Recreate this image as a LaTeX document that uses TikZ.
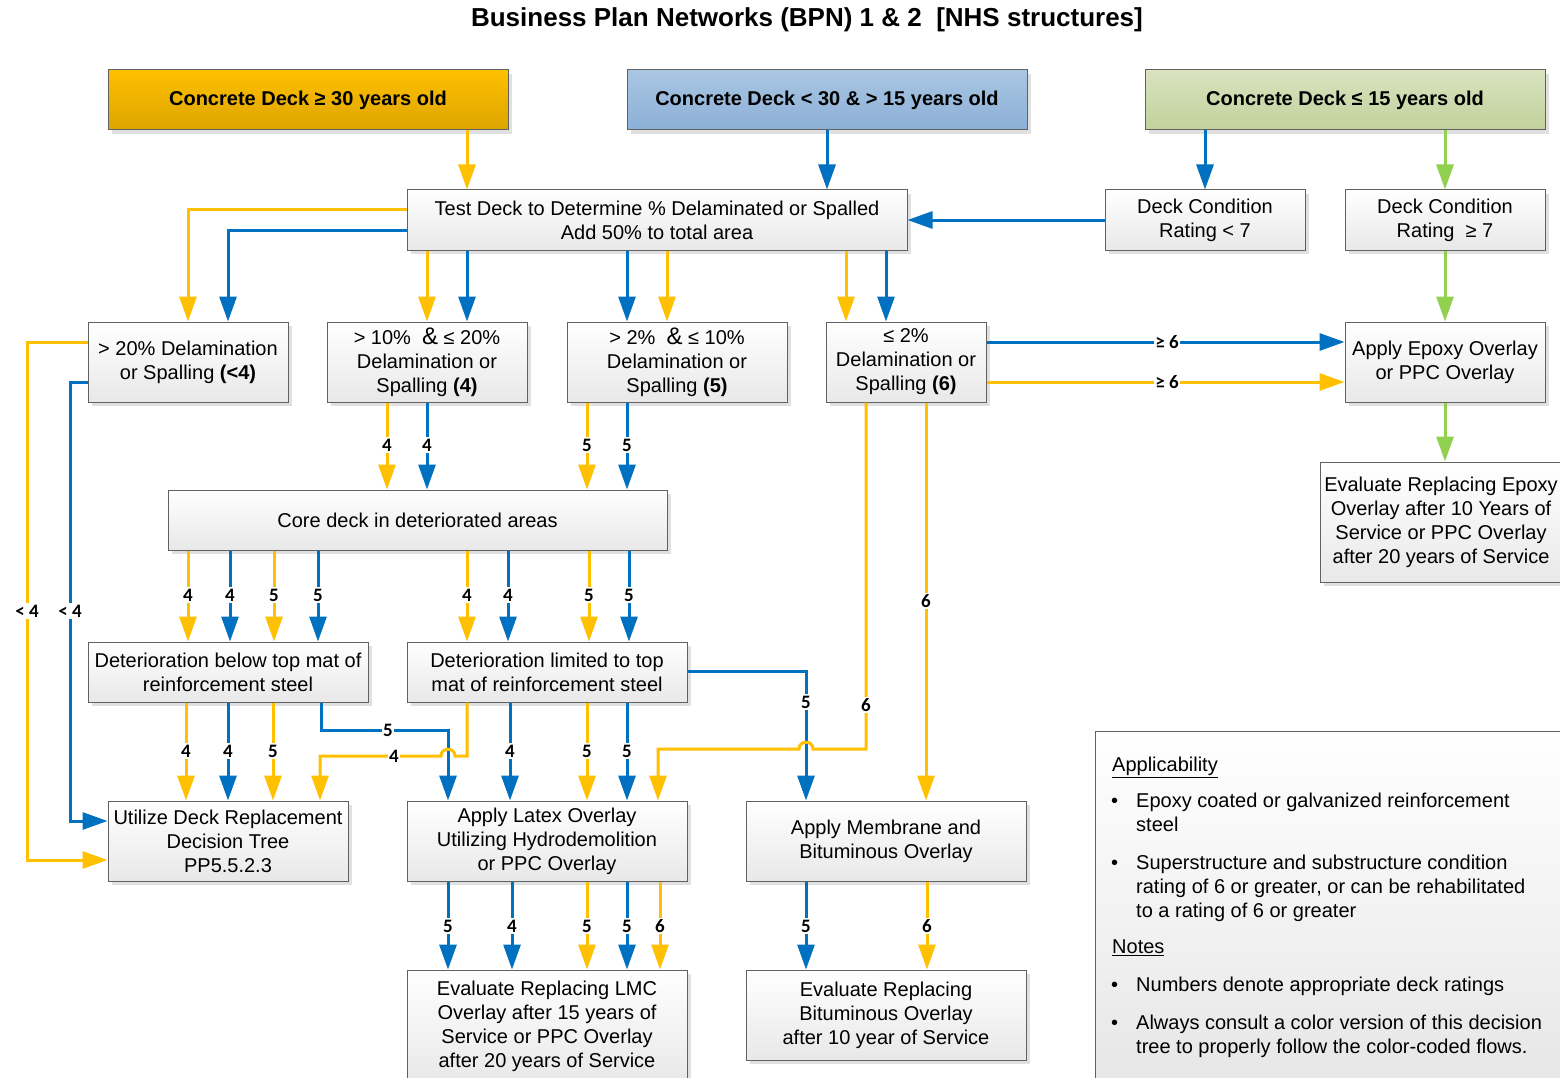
\documentclass[tikz,border=0pt]{standalone}
\usepackage{fontspec}
\setmainfont{Liberation Sans}
\newfontfamily\lblfont{Carlito}
\usetikzlibrary{arrows.meta,shadows}
\definecolor{cor}{HTML}{FFC000}
\definecolor{cbl}{HTML}{0070C0}
\definecolor{cgr}{HTML}{92D050}
\definecolor{h1t}{HTML}{FFC000}
\definecolor{h1b}{HTML}{DCA400}
\definecolor{h2t}{HTML}{A9C6E3}
\definecolor{h2b}{HTML}{8CB0D7}
\definecolor{h3t}{HTML}{D9E3BF}
\definecolor{h3b}{HTML}{C2D19C}
\begin{document}
\begin{tikzpicture}[x=1pt,y=-1pt,
  box/.style={draw=black!62, line width=1pt, top color=white, bottom color=black!9,
    inner sep=0pt, align=center, font=\fontsize{20}{24}\selectfont,
    drop shadow={shadow xshift=4pt,shadow yshift=-4pt,fill=black!12,opacity=1}},
  hbox/.style={box, font=\bfseries\fontsize{20}{24}\selectfont, minimum width=400pt, minimum height=60pt},
  conn/.style={line width=3pt, -{Triangle[length=25pt,width=17pt]}},
  oa/.style={conn, draw=cor, color=cor},
  ba/.style={conn, draw=cbl, color=cbl},
  ga/.style={conn, draw=cgr, color=cgr},
  lbl/.style={fill=white, text=black, inner sep=1.5pt, font=\lblfont\bfseries\fontsize{19}{19}\selectfont},
  nt/.style={inner sep=0pt, align=left, anchor=north west, font=\fontsize{20}{24}\selectfont},
  bul/.style={inner sep=0pt, anchor=base west, font=\fontsize{20}{24}\selectfont}
]
\fill[white] (0,0) rectangle (1560,1078);
\useasboundingbox (0,0) rectangle (1560,1078);

\node[inner sep=0pt, font=\bfseries\fontsize{26}{30}\selectfont] (title) at (807,20)
  {Business Plan Networks (BPN) 1 \& 2~~[NHS structures]};

% header boxes
\node[hbox, top color=h1t, bottom color=h1b] (h1) at (308,100) {Concrete Deck ≥ 30 years old};
\node[hbox, top color=h2t, bottom color=h2b] (h2) at (827,100) {Concrete Deck < 30 \& > 15 years old};
\node[hbox, top color=h3t, bottom color=h3b] (h3) at (1345,100) {Concrete Deck ≤ 15 years old};

% second row
\node[box, minimum width=500pt, minimum height=60pt] (test) at (657,220)
  {Test Deck to Determine \% Delaminated or Spalled\\Add 50\% to total area};
\node[box, minimum width=200pt, minimum height=60pt] (dcr1) at (1205,220) {Deck Condition\\Rating < 7};
\node[box, minimum width=200pt, minimum height=60pt] (dcr2) at (1445,220) {Deck Condition\\Rating ~≥ 7};

% third row
\node[box, minimum width=200pt, minimum height=80pt] (bA) at (188,362)
  {> 20\% Delamination\\or Spalling \textbf{(<4)}};
\node[box, minimum width=200pt, minimum height=80pt] (bB) at (427,362)
  {> 10\%~~{\fontsize{24}{24}\selectfont\&} ≤ 20\%\\Delamination or\\Spalling \textbf{(4)}};
\node[box, minimum width=220pt, minimum height=80pt] (bC) at (677,362)
  {> 2\%~~{\fontsize{24}{24}\selectfont\&} ≤ 10\%\\Delamination or\\Spalling \textbf{(5)}};
\node[box, minimum width=160pt, minimum height=80pt] (bD) at (906,362)
  {≤ 2\%\\Delamination or\\Spalling \textbf{(6)}};
\node[box, minimum width=200pt, minimum height=80pt] (epx) at (1445,362)
  {Apply Epoxy Overlay\\or PPC Overlay};
\node[box, minimum width=242pt, minimum height=120pt] (evx) at (1441,522)
  {Evaluate Replacing Epoxy\\Overlay after 10 Years of\\Service or PPC Overlay\\after 20 years of Service};

% core
\node[box, minimum width=499pt, minimum height=60pt] (core) at (417.5,520) {Core deck in deteriorated areas};

\node[box, minimum width=280pt, minimum height=60pt] (dbel) at (228,672)
  {Deterioration below top mat of\\reinforcement steel};
\node[box, minimum width=280pt, minimum height=60pt] (dlim) at (547,672)
  {Deterioration limited to top\\mat of reinforcement steel};

\node[box, minimum width=240pt, minimum height=80pt] (ut) at (228,841)
  {Utilize Deck Replacement\\Decision Tree\\PP5.5.2.3};
\node[box, minimum width=280pt, minimum height=80pt] (la) at (547,841)
  {Apply Latex Overlay\\Utilizing Hydrodemolition\\or PPC Overlay};
\node[box, minimum width=280pt, minimum height=80pt] (mem) at (886,841)
  {Apply Membrane and\\Bituminous Overlay};

\node[box, minimum width=280pt, minimum height=112pt] (lmc) at (547,1026)
  {Evaluate Replacing LMC\\Overlay after 15 years of\\Service or PPC Overlay\\after 20 years of Service};
\node[box, minimum width=280pt, minimum height=90pt] (bit) at (886,1015)
  {Evaluate Replacing\\Bituminous Overlay\\after 10 year of Service};

% notes box
\node[draw=black!62, line width=1pt, top color=white, bottom color=black!10, inner sep=0pt,
  anchor=north west, minimum width=480pt, minimum height=360pt] (nb) at (1095,731) {};
\node[nt] (n1) at (1112,757) {\underline{Applicability}};
\node[bul] (b1) at (1111,807) {•};
\node[nt] (n2) at (1136,793) {Epoxy coated or galvanized reinforcement\\steel};
\node[bul] (b2) at (1111,869) {•};
\node[nt] (n3) at (1136,855) {Superstructure and substructure condition\\rating of 6 or greater, or can be rehabilitated\\to a rating of 6 or greater};
\node[nt] (n4) at (1112,940) {\underline{Notes}};
\node[bul] (b3) at (1111,991) {•};
\node[nt] (n5) at (1136,977) {Numbers denote appropriate deck ratings};
\node[bul] (b4) at (1111,1029) {•};
\node[nt] (n6) at (1136,1015) {Always consult a color version of this decision\\tree to properly follow the color-coded flows.};

% ---------- connectors ----------
\draw[oa] (467,0 |- h1.south) -- (467,0 |- test.north);
\draw[ba] (827,0 |- h2.south) -- (827,0 |- test.north);
\draw[ba] (1205,0 |- h3.south) -- (dcr1.north);
\draw[ga] (1445,0 |- h3.south) -- (dcr2.north);
\draw[ba] (dcr1.west) -- (test.east);
\draw[ga] (dcr2.south) -- (epx.north);
\draw[ga] (1445,0 |- epx.south) -- (1445,0 |- evx.north);

% test -> row 3
\draw[oa] (test.west |- 0,210) -- (188,210) -- (188,0 |- bA.north);
\draw[ba] (test.west |- 0,230) -- (228,230) -- (228,0 |- bA.north);
\draw[oa] (427,0 |- test.south) -- (427,0 |- bB.north);
\draw[ba] (467,0 |- test.south) -- (467,0 |- bB.north);
\draw[ba] (627,0 |- test.south) -- (627,0 |- bC.north);
\draw[oa] (667,0 |- test.south) -- (667,0 |- bC.north);
\draw[oa] (846,0 |- test.south) -- (846,0 |- bD.north);
\draw[ba] (886,0 |- test.south) -- (886,0 |- bD.north);

% D -> epoxy
\draw[ba] (bD.east |- 0,342) -- (1167,342) node[lbl] {≥ 6} -- (epx.west |- 0,342);
\draw[oa] (bD.east |- 0,382) -- (1167,382) node[lbl] {≥ 6} -- (epx.west |- 0,382);

% A -> utilize
\draw[oa] (bA.west |- 0,342) -- (27,342) -- (27,611) node[lbl] {< 4} -- (27,860) -- (ut.west |- 0,860);
\draw[ba] (bA.west |- 0,382) -- (70,382) -- (70,611) node[lbl] {< 4} -- (70,821) -- (ut.west |- 0,821);

% B, C -> core
\draw[oa] (387,0 |- bB.south) -- (387,445) node[lbl] {4} -- (387,0 |- core.north);
\draw[ba] (427,0 |- bB.south) -- (427,445) node[lbl] {4} -- (427,0 |- core.north);
\draw[oa] (587,0 |- bC.south) -- (587,445) node[lbl] {5} -- (587,0 |- core.north);
\draw[ba] (627,0 |- bC.south) -- (627,445) node[lbl] {5} -- (627,0 |- core.north);

% core -> deterioration boxes
\draw[oa] (188,0 |- core.south) -- (188,595) node[lbl] {4} -- (188,0 |- dbel.north);
\draw[ba] (230,0 |- core.south) -- (230,595) node[lbl] {4} -- (230,0 |- dbel.north);
\draw[oa] (274,0 |- core.south) -- (274,595) node[lbl] {5} -- (274,0 |- dbel.north);
\draw[ba] (318,0 |- core.south) -- (318,595) node[lbl] {5} -- (318,0 |- dbel.north);
\draw[oa] (467,0 |- core.south) -- (467,595) node[lbl] {4} -- (467,0 |- dlim.north);
\draw[ba] (508,0 |- core.south) -- (508,595) node[lbl] {4} -- (508,0 |- dlim.north);
\draw[oa] (589,0 |- core.south) -- (589,595) node[lbl] {5} -- (589,0 |- dlim.north);
\draw[ba] (629,0 |- core.south) -- (629,595) node[lbl] {5} -- (629,0 |- dlim.north);

% below -> utilize / latex
\draw[oa] (186,0 |- dbel.south) -- (186,751) node[lbl] {4} -- (186,0 |- ut.north);
\draw[ba] (228,0 |- dbel.south) -- (228,751) node[lbl] {4} -- (228,0 |- ut.north);
\draw[oa] (273,0 |- dbel.south) -- (273,751) node[lbl] {5} -- (273,0 |- ut.north);
\draw[ba] (321,0 |- dbel.south) -- (321,730) -- (388,730) node[lbl] {5} -- (448,730) -- (448,0 |- la.north);

% limited -> utilize (with hop), latex, membrane
\draw[oa] (467,0 |- dlim.south) -- (467,756) -- (455,756) .. controls (455,747) and (441,747) .. (441,756)
  -- (394,756) node[lbl] {4} -- (320,756) -- (320,0 |- ut.north);
\draw[ba] (510,0 |- dlim.south) -- (510,751) node[lbl] {4} -- (510,0 |- la.north);
\draw[oa] (587,0 |- dlim.south) -- (587,751) node[lbl] {5} -- (587,0 |- la.north);
\draw[ba] (627,0 |- dlim.south) -- (627,751) node[lbl] {5} -- (627,0 |- la.north);
\draw[ba] (dlim.east |- 0,671) -- (806,671) -- (806,702) node[lbl] {5} -- (806,0 |- mem.north);

% D -> latex (hop) and membrane
\draw[oa] (866,0 |- bD.south) -- (866,705) node[lbl] {6} -- (866,749) -- (813,749)
  .. controls (813,740) and (799,740) .. (799,749) -- (658,749) -- (658,0 |- la.north);
\draw[oa] (926,0 |- bD.south) -- (926,601) node[lbl] {6} -- (926,0 |- mem.north);

% latex -> LMC
\draw[ba] (448,0 |- la.south) -- (448,926) node[lbl] {5} -- (448,0 |- lmc.north);
\draw[ba] (512,0 |- la.south) -- (512,926) node[lbl] {4} -- (512,0 |- lmc.north);
\draw[oa] (587,0 |- la.south) -- (587,926) node[lbl] {5} -- (587,0 |- lmc.north);
\draw[ba] (627,0 |- la.south) -- (627,926) node[lbl] {5} -- (627,0 |- lmc.north);
\draw[oa] (660,0 |- la.south) -- (660,926) node[lbl] {6} -- (660,0 |- lmc.north);

% membrane -> bituminous
\draw[ba] (806,0 |- mem.south) -- (806,926) node[lbl] {5} -- (806,0 |- bit.north);
\draw[oa] (927,0 |- mem.south) -- (927,926) node[lbl] {6} -- (927,0 |- bit.north);
\end{tikzpicture}
\end{document}
